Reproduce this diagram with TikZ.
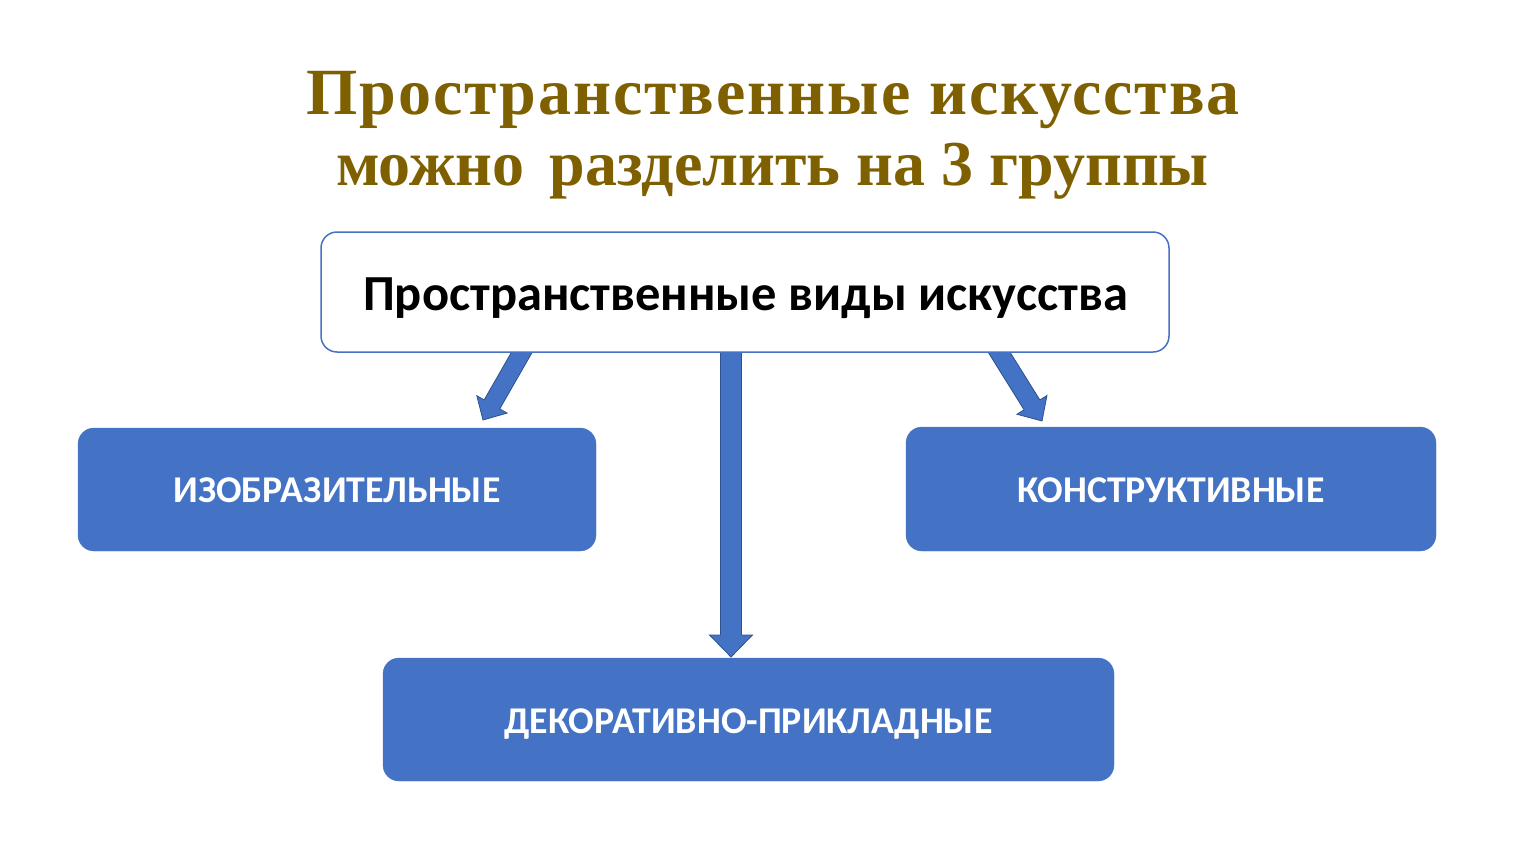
\documentclass[tikz,border=0pt]{standalone}
\usepackage{fontspec}
\setmainfont{Liberation Serif}
\newfontfamily\titlefontsp[LetterSpace=3]{Liberation Serif}
\newfontfamily\boxfont{Carlito}
\usetikzlibrary{calc}
\definecolor{titlecol}{HTML}{7F6000}
\definecolor{boxblue}{HTML}{4472C4}
\definecolor{edgeblue}{HTML}{2F528F}
\tikzset{
  titletext/.style={anchor=base, text=titlecol, inner sep=0pt},
  topbox/.style={draw=boxblue, line width=1.5pt, fill=white, rounded corners=16pt},
  bluebox/.style={fill=boxblue, draw=boxblue, rounded corners=16pt},
  boxlabel/.style={anchor=base, inner sep=0pt, font=\boxfont\fontsize{37.8}{42}\selectfont\bfseries},
  blockarrow/.style={fill=boxblue, draw=edgeblue, line width=0.8pt, line join=miter}
}
% #1 start, #2 tip, #3 shaft half width, #4 head half width, #5 head length
\newcommand\blkarrow[5]{%
  \coordinate (hb) at ($(#2)!#5!(#1)$);
  \draw[blockarrow] ($(#1)!#3!90:(#2)$) -- ($(hb)!#3!-90:(#1)$) -- ($(hb)!#4!-90:(#1)$) -- (#2)
     -- ($(hb)!#4!90:(#1)$) -- ($(hb)!#3!90:(#1)$) -- ($(#1)!#3!-90:(#2)$) -- cycle;
}
\begin{document}
\begin{tikzpicture}[x=1pt,y=-1pt]
\useasboundingbox (0,0) rectangle (1533,864);
% title
\node[titletext, font=\titlefontsp\fontsize{66}{70}\selectfont\bfseries] (t1) at (773,114) {Пространственные искусства};
\node[titletext, font=\fontsize{64}{70}\selectfont\bfseries] (t2) at (772.5,185) {можно\hspace{25pt}разделить на 3 группы};
% boxes
\path[bluebox] (78,428) rectangle (596,551);
\node (izo) at (337,489.5) {};
\path[bluebox] (906,427) rectangle (1436,551);
\node (kon) at (1171,489) {};
\path[bluebox] (383,658) rectangle (1114,781);
\node (dek) at (748.5,719.5) {};
\node[boxlabel, text=white] (lizo) at (337,502) {ИЗОБРАЗИТЕЛЬНЫЕ};
\node[boxlabel, text=white] (lkon) at (1171,502) {КОНСТРУКТИВНЫЕ};
\node[boxlabel, text=white] (ldek) at (748.5,733) {ДЕКОРАТИВНО-ПРИКЛАДНЫЕ};
% arrows
\coordinate (s1) at (526,345);
\coordinate (e1) at (483,420);
\coordinate (s2) at (731,345);
\coordinate (e2) at (731,657);
\coordinate (s3) at (994.6,345);
\coordinate (e3) at (1042,421);
\blkarrow{s1}{e1}{9pt}{17.5pt}{18pt}
\blkarrow{s2}{e2}{10.5pt}{21.5pt}{22pt}
\blkarrow{s3}{e3}{9.3pt}{17.7pt}{19pt}
% top box
\path[topbox] (321,232) rectangle (1169,352);
\node (top) at (745,292) {};
\node[boxlabel, font=\boxfont\fontsize{50.5}{54}\selectfont\bfseries] (ltop) at (745.5,310) {Пространственные виды искусства};
\end{tikzpicture}
\end{document}
